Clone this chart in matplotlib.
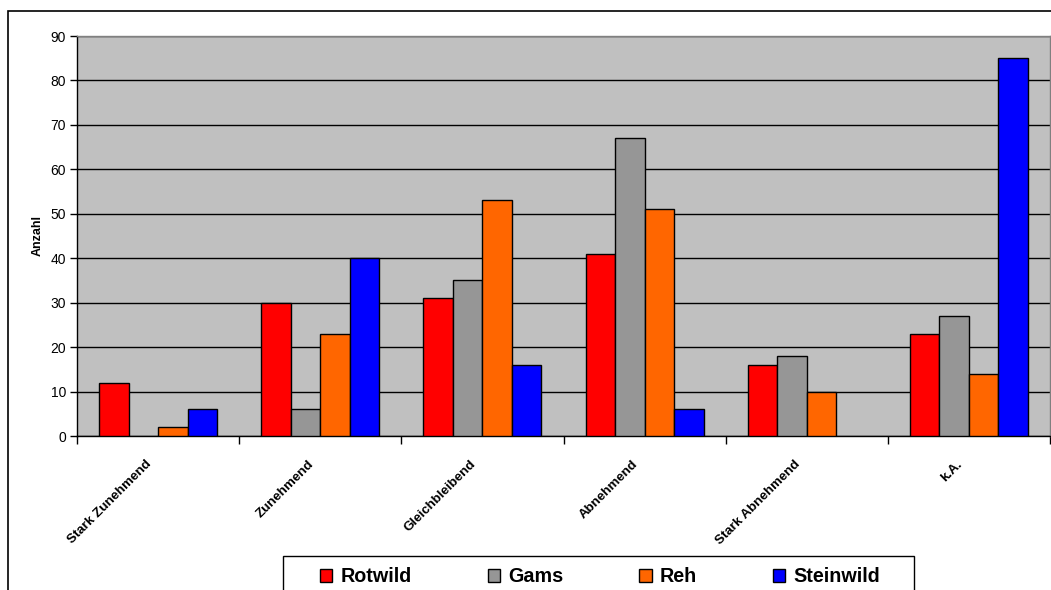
import matplotlib
matplotlib.use("Agg")
import matplotlib.pyplot as plt
import matplotlib.transforms as mtransforms
from matplotlib.patches import Patch, Rectangle
import numpy as np

categories = ["Stark Zunehmend", "Zunehmend", "Gleichbleibend", "Abnehmend",
              "Stark Abnehmend", "k.A."]
series_names = ["Rotwild", "Gams", "Reh", "Steinwild"]
rotwild = [12, 30, 31, 41, 16, 23]
gams = [0, 6, 35, 67, 18, 27]
reh = [2, 23, 53, 51, 10, 14]
steinwild = [6, 40, 16, 6, 0, 85]
colors = ["#FF0000", "#969696", "#FF6600", "#0000FF"]
y_ticks = list(range(0, 91, 10))

plt.rcParams["font.family"] = ["Liberation Sans", "DejaVu Sans"]

W, H = 1051, 590
fig = plt.figure(figsize=(W / 100, H / 100), dpi=100)
fig.patch.set_facecolor("white")

# outer chart frame (runs off the right and bottom edges)
fig.patches.append(Rectangle((8 / W, -0.1), 1.2, 1.1 - 11 / H,
                             transform=fig.transFigure, fill=False,
                             edgecolor="black", linewidth=1.2))

ax = fig.add_axes([77 / W, 1 - 436 / H, (1050 - 77) / W, 400 / H])
ax.set_facecolor("#C0C0C0")

n = len(series_names)
bw = 1 / (n + 1.5)
x = np.arange(len(categories))
all_series = [rotwild, gams, reh, steinwild]
for i, (vals, c) in enumerate(zip(all_series, colors)):
    offs = (i - (n - 1) / 2) * bw
    ax.bar(x + offs, vals, width=bw, color=c, edgecolor="black",
           linewidth=[1.0 if v else 0.0 for v in vals], zorder=3)

ax.set_xlim(-0.5, len(categories) - 0.5)
ax.set_ylim(0, 90)
ax.set_yticks(y_ticks)
ax.yaxis.grid(True, color="black", linewidth=1.0, zorder=1)
ax.set_axisbelow(True)
ax.tick_params(axis="y", labelsize=10, length=5, width=1, direction="out", pad=3)

ax.set_xticks(np.arange(len(categories) + 1) - 0.5)
ax.set_xticklabels([])
ax.tick_params(axis="x", length=6, width=1, direction="out")
ax.set_xticks(x, minor=True)
ax.set_xticklabels(categories, minor=True, rotation=45, ha="right",
                   rotation_mode="anchor", fontsize=9.6, fontweight="bold")
ax.tick_params(axis="x", which="minor", length=0, pad=16)
shift = mtransforms.ScaledTranslation(-13 / 100, 0, fig.dpi_scale_trans)
for lbl in ax.get_xticklabels(minor=True):
    lbl.set_transform(lbl.get_transform() + shift)

for s in ["left", "bottom"]:
    ax.spines[s].set_color("black")
    ax.spines[s].set_linewidth(1.0)
for s in ["top", "right"]:
    ax.spines[s].set_color("#808080")
    ax.spines[s].set_linewidth(1.0)

ax.set_ylabel("Anzahl", fontsize=9, fontweight="bold", labelpad=5)

# legend box (runs off the bottom edge)
fig.patches.append(Rectangle((283 / W, -0.1), (914 - 283) / W, 0.1 + 1 - 556 / H,
                             transform=fig.transFigure, fill=False,
                             edgecolor="black", linewidth=1.0))
handles = [Patch(facecolor=c, edgecolor="black", linewidth=1.0) for c in colors]
fs = 14.2
leg = fig.legend(handles, series_names, loc="center left",
                 bbox_to_anchor=(320 / W, 1 - 576.5 / H),
                 ncol=4, frameon=False, borderpad=0, borderaxespad=0,
                 handlelength=0.63, handleheight=0.63, handletextpad=0.4,
                 columnspacing=3.86, prop={"size": fs, "weight": "bold"})

fig.savefig("out.png", dpi=100)
